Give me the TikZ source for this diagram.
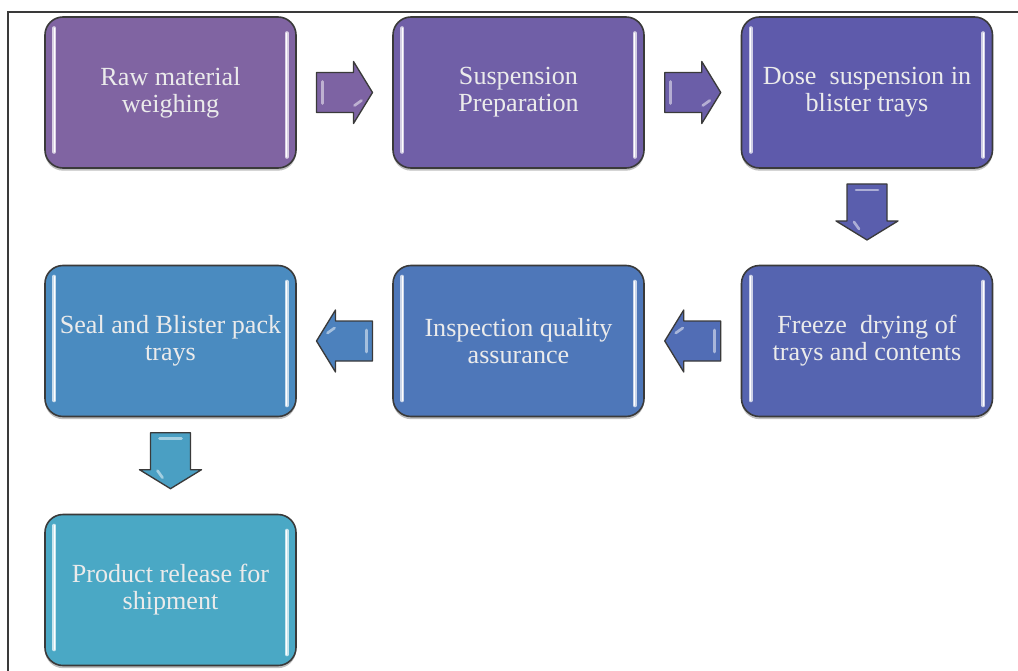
\documentclass[tikz,border=0pt]{standalone}
\usepackage{fontspec}
\newfontfamily\boxfont{Liberation Serif}
\usetikzlibrary{calc,shadows}
\definecolor{cA}{HTML}{8064A2}
\definecolor{cB}{HTML}{705FA7}
\definecolor{cC}{HTML}{5E5AAB}
\definecolor{cD}{HTML}{5564B0}
\definecolor{cE}{HTML}{4E77B9}
\definecolor{cF}{HTML}{4A8BC0}
\definecolor{cG}{HTML}{4AA8C5}
\definecolor{edge}{HTML}{3A3A3A}
\tikzset{
  stepbox/.style={draw=edge, line width=1.2pt, rounded corners=13.5pt,
    minimum width=188.25pt, minimum height=113.25pt, inner sep=0pt,
    align=center, text=white!92!black,
    font=\boxfont\fontsize{19.6}{20.25}\selectfont,
    drop shadow={shadow xshift=0pt, shadow yshift=-2pt, opacity=0.25, fill=black}},
  blockarrow/.pic={
    \path[pic actions] (-28,-20) -- (9,-20) -- (9,-31) -- (28,0) -- (9,31) -- (9,20) -- (-28,20) -- cycle;
    \draw[white, opacity=0.5, line width=2pt, line cap=round] (-22,-11) -- (-22,11);
    \draw[white, opacity=0.5, line width=2pt, line cap=round] (10,13) -- (17,8);
  },
  arr/.style={draw=edge, line width=1pt, line join=round}
}
\newcommand{\gloss}[2]{%
  \draw[#2!30!white, line width=3pt, line cap=round] ($(#1.north west)+(10,12)$) -- ($(#1.south west)+(10,-17)$);
  \draw[#2!30!white, line width=3pt, line cap=round] ($(#1.north east)+(-10,17)$) -- ($(#1.south east)+(-10,-12)$);
  \draw[white, line width=1pt, line cap=round] ($(#1.north west)+(10,12)$) -- ($(#1.south west)+(10,-17)$);
  \draw[white, line width=1pt, line cap=round] ($(#1.north east)+(-10,17)$) -- ($(#1.south east)+(-10,-12)$);
}
\begin{document}
\begin{tikzpicture}[x=0.75pt, y=-0.75pt]
\useasboundingbox (0,0) rectangle (1018,671);
\draw[edge, line width=0.8pt] (1018,12) -- (8,12) -- (8,671);

\node[stepbox, fill=cA] (b1) at (170.5,92.5) {Raw material\\weighing};
\node[stepbox, fill=cB] (b2) at (518.5,92.5) {Suspension\\Preparation};
\node[stepbox, fill=cC] (b3) at (867,92.5) {Dose\ \ suspension in\\blister\ trays};
\node[stepbox, fill=cD] (b6) at (867,341) {Freeze\ \ drying of\\trays and contents};
\node[stepbox, fill=cE] (b5) at (518.5,341) {Inspection quality\\assurance};
\node[stepbox, fill=cF] (b4) at (170.5,341) {Seal and Blister\ pack\\trays};
\node[stepbox, fill=cG] (b7) at (170.5,590) {Product release\ for\\shipment};

\gloss{b1}{cA}\gloss{b2}{cB}\gloss{b3}{cC}\gloss{b6}{cD}\gloss{b5}{cE}\gloss{b4}{cF}\gloss{b7}{cG}

\pic[arr, fill=cA!80!cB] at ($(b1.east)!0.5!(b2.west)$) {blockarrow};
\pic[arr, fill=cB!70!cC] at ($(b2.east)!0.5!(b3.west)$) {blockarrow};
\pic[arr, fill=cC!60!cD, rotate=-90] at ($(b3.south)!0.45!(b6.north)$) {blockarrow};
\pic[arr, fill=cD!50!cE, rotate=180] at ($(b6.west)!0.5!(b5.east)$) {blockarrow};
\pic[arr, fill=cE!50!cF, rotate=180] at ($(b5.west)!0.5!(b4.east)$) {blockarrow};
\pic[arr, fill=cF!30!cG, rotate=-90] at ($(b4.south)!0.45!(b7.north)$) {blockarrow};
\end{tikzpicture}
\end{document}
